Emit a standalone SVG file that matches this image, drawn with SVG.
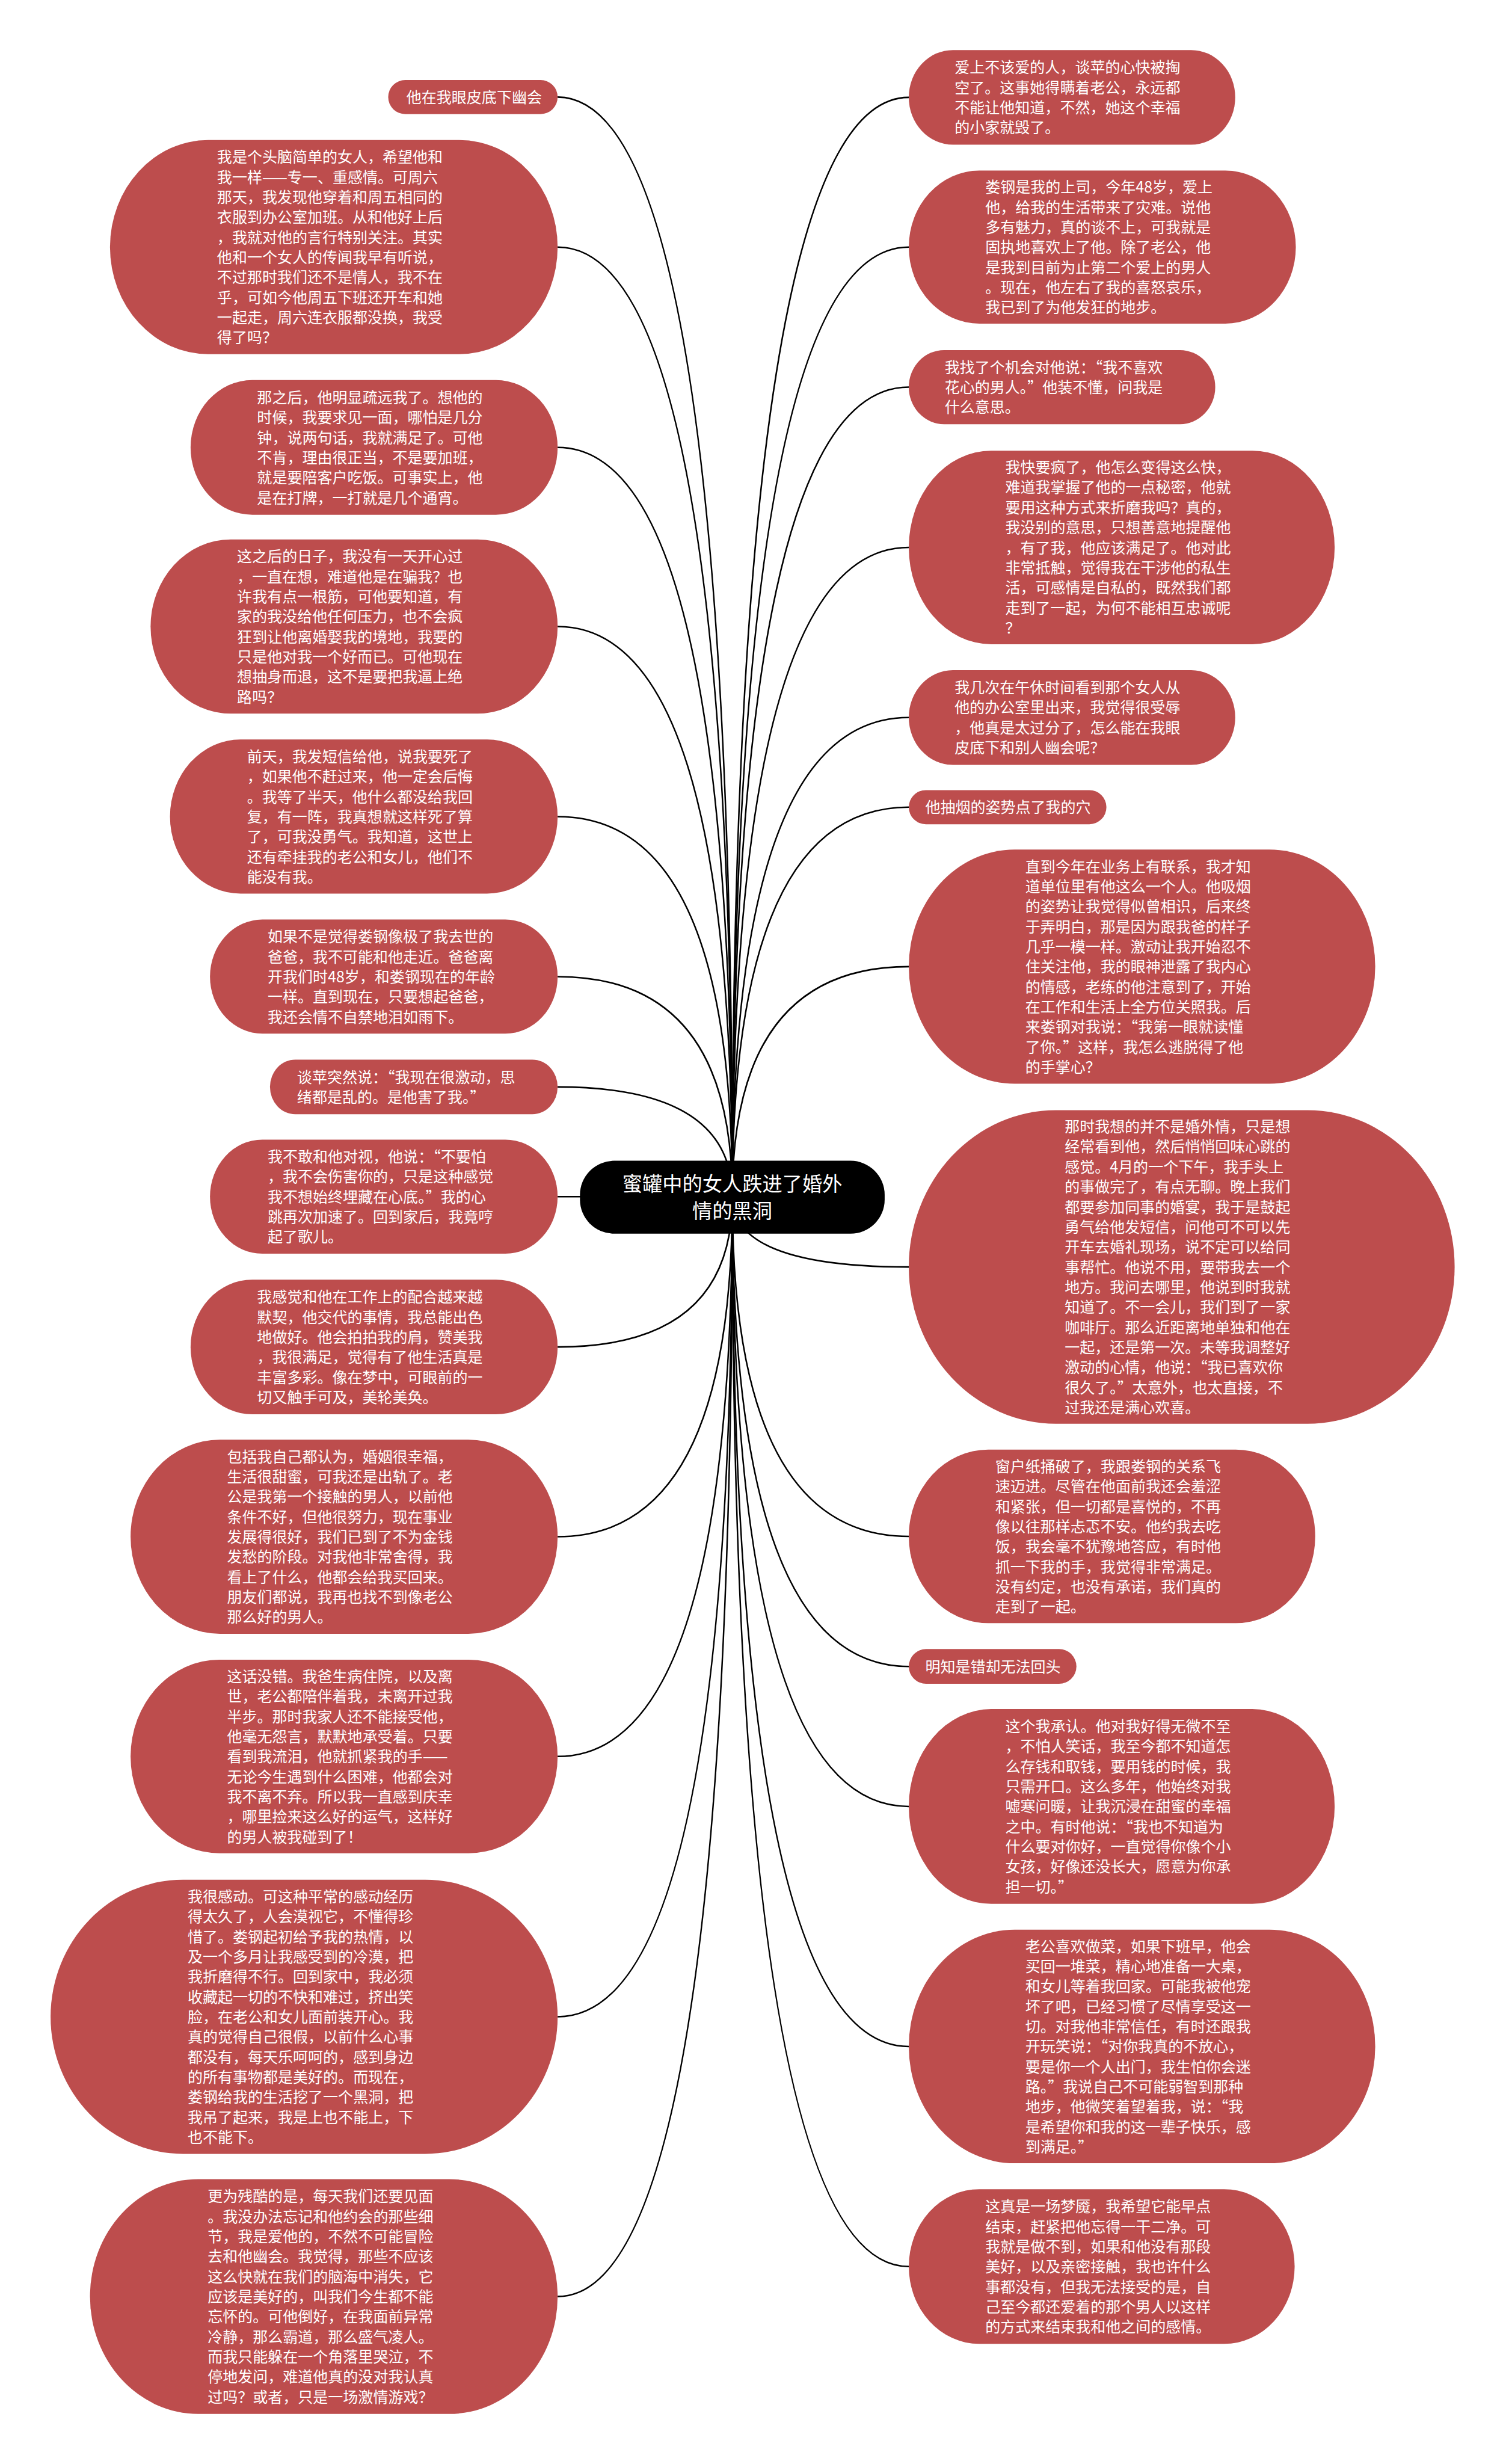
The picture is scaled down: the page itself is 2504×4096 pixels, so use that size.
<svg xmlns="http://www.w3.org/2000/svg" width="2504" height="4096" viewBox="0 0 2504 4096">
<style>
.node rect{fill:#bd4d4d;}
.node text{fill:#ffffff;font-family:"Noto Sans CJK SC","Noto Sans",sans-serif;font-size:25.6px;}
.root rect{fill:#000000;}
.root text{fill:#ffffff;font-family:"Noto Sans CJK SC","Noto Sans",sans-serif;font-size:34px;text-anchor:middle;}
.edges path{fill:none;stroke:#000000;stroke-width:2.6;}
.q{font-feature-settings:"fwid" 1;}
</style>
<rect width="2504" height="4096" fill="#ffffff"/>
<g transform="scale(0.978)">
<g class="edges">
<path d="M1245 2035 Q1245 165 948 165"/>
<path d="M1245 2035 Q1245 420 948 420"/>
<path d="M1245 2035 Q1245 760.5 948 760.5"/>
<path d="M1245 2035 Q1245 1065 948 1065"/>
<path d="M1245 2035 Q1245 1388 948 1388"/>
<path d="M1245 2035 Q1245 1660 948 1660"/>
<path d="M1245 2035 Q1245 1847.5 948 1847.5"/>
<path d="M1245 2035 Q1245 2034 948 2034"/>
<path d="M1245 2035 Q1245 2289.5 948 2289.5"/>
<path d="M1245 2035 Q1245 2612 948 2612"/>
<path d="M1245 2035 Q1245 2985.5 948 2985.5"/>
<path d="M1245 2035 Q1245 3428 948 3428"/>
<path d="M1245 2035 Q1245 3903.5 948 3903.5"/>
<path d="M1245 2035 Q1245 165.5 1545 165.5"/>
<path d="M1245 2035 Q1245 420 1545 420"/>
<path d="M1245 2035 Q1245 658 1545 658"/>
<path d="M1245 2035 Q1245 930.5 1545 930.5"/>
<path d="M1245 2035 Q1245 1219.5 1545 1219.5"/>
<path d="M1245 2035 Q1245 1372 1545 1372"/>
<path d="M1245 2035 Q1245 1643 1545 1643"/>
<path d="M1245 2035 Q1245 2153.5 1545 2153.5"/>
<path d="M1245 2035 Q1245 2611.5 1545 2611.5"/>
<path d="M1245 2035 Q1245 2832.5 1545 2832.5"/>
<path d="M1245 2035 Q1245 3070.5 1545 3070.5"/>
<path d="M1245 2035 Q1245 3478.5 1545 3478.5"/>
<path d="M1245 2035 Q1245 3852.5 1545 3852.5"/>
</g>

<g id="root" class="root">
<rect x="986" y="1973" width="518" height="124" rx="58" ry="58"/>
<text x="1245" y="2025"><tspan x="1245">蜜罐中的女人跌进了婚外</tspan><tspan x="1245" dy="46">情的黑洞</tspan></text>
</g>

<g id="L1" class="node">
<rect x="660" y="136" width="288" height="58" rx="29" ry="29"/>
<text x="691" y="174.7">他在我眼皮底下幽会</text>
</g>

<g id="L2" class="node">
<rect x="187" y="238" width="761" height="364" rx="167" ry="182"/>
<text x="369" y="276.3"><tspan x="369">我是个头脑简单的女人，希望他和</tspan><tspan x="369" dy="34.1">我一样——专一、重感情。可周六</tspan><tspan x="369" dy="34.1">那天，我发现他穿着和周五相同的</tspan><tspan x="369" dy="34.1">衣服到办公室加班。从和他好上后</tspan><tspan x="369" dy="34.1">，我就对他的言行特别关注。其实</tspan><tspan x="369" dy="34.1">他和一个女人的传闻我早有听说，</tspan><tspan x="369" dy="34.1">不过那时我们还不是情人，我不在</tspan><tspan x="369" dy="34.1">乎，可如今他周五下班还开车和她</tspan><tspan x="369" dy="34.1">一起走，周六连衣服都没换，我受</tspan><tspan x="369" dy="34.1">得了吗？</tspan></text>
</g>

<g id="L3" class="node">
<rect x="324" y="646" width="624" height="229" rx="105" ry="114.5"/>
<text x="437" y="685"><tspan x="437">那之后，他明显疏远我了。想他的</tspan><tspan x="437" dy="34.1">时候，我要求见一面，哪怕是几分</tspan><tspan x="437" dy="34.1">钟，说两句话，我就满足了。可他</tspan><tspan x="437" dy="34.1">不肯，理由很正当，不是要加班，</tspan><tspan x="437" dy="34.1">就是要陪客户吃饭。可事实上，他</tspan><tspan x="437" dy="34.1">是在打牌，一打就是几个通宵。</tspan></text>
</g>

<g id="L4" class="node">
<rect x="256" y="917" width="692" height="296" rx="136" ry="148"/>
<text x="403" y="955.4"><tspan x="403">这之后的日子，我没有一天开心过</tspan><tspan x="403" dy="34.1">，一直在想，难道他是在骗我？也</tspan><tspan x="403" dy="34.1">许我有点一根筋，可他要知道，有</tspan><tspan x="403" dy="34.1">家的我没给他任何压力，也不会疯</tspan><tspan x="403" dy="34.1">狂到让他离婚娶我的境地，我要的</tspan><tspan x="403" dy="34.1">只是他对我一个好而已。可他现在</tspan><tspan x="403" dy="34.1">想抽身而退，这不是要把我逼上绝</tspan><tspan x="403" dy="34.1">路吗？</tspan></text>
</g>

<g id="L5" class="node">
<rect x="289" y="1257" width="659" height="262" rx="120" ry="131"/>
<text x="420" y="1295.4"><tspan x="420">前天，我发短信给他，说我要死了</tspan><tspan x="420" dy="34.1">，如果他不赶过来，他一定会后悔</tspan><tspan x="420" dy="34.1">。我等了半天，他什么都没给我回</tspan><tspan x="420" dy="34.1">复，有一阵，我真想就这样死了算</tspan><tspan x="420" dy="34.1">了，可我没勇气。我知道，这世上</tspan><tspan x="420" dy="34.1">还有牵挂我的老公和女儿，他们不</tspan><tspan x="420" dy="34.1">能没有我。</tspan></text>
</g>

<g id="L6" class="node">
<rect x="357" y="1563" width="591" height="194" rx="89" ry="97"/>
<text x="455" y="1601.5"><tspan x="455">如果不是觉得娄钢像极了我去世的</tspan><tspan x="455" dy="34.1">爸爸，我不可能和他走近。爸爸离</tspan><tspan x="455" dy="34.1">开我们时48岁，和娄钢现在的年龄</tspan><tspan x="455" dy="34.1">一样。直到现在，只要想起爸爸，</tspan><tspan x="455" dy="34.1">我还会情不自禁地泪如雨下。</tspan></text>
</g>

<g id="L7" class="node">
<rect x="459" y="1801" width="489" height="93" rx="43" ry="46.5"/>
<text x="505" y="1840.2"><tspan x="505">谈苹突然说：<tspan class="q">“</tspan>我现在很激动，思</tspan><tspan x="505" dy="34.1">绪都是乱的。是他害了我。<tspan class="q">”</tspan></tspan></text>
</g>

<g id="L8" class="node">
<rect x="357" y="1937" width="591" height="194" rx="89" ry="97"/>
<text x="455" y="1975.5"><tspan x="455">我不敢和他对视，他说：<tspan class="q">“</tspan>不要怕</tspan><tspan x="455" dy="34.1">，我不会伤害你的，只是这种感觉</tspan><tspan x="455" dy="34.1">我不想始终埋藏在心底。<tspan class="q">”</tspan>我的心</tspan><tspan x="455" dy="34.1">跳再次加速了。回到家后，我竟哼</tspan><tspan x="455" dy="34.1">起了歌儿。</tspan></text>
</g>

<g id="L9" class="node">
<rect x="324" y="2175" width="624" height="229" rx="105" ry="114.5"/>
<text x="437" y="2214"><tspan x="437">我感觉和他在工作上的配合越来越</tspan><tspan x="437" dy="34.1">默契，他交代的事情，我总能出色</tspan><tspan x="437" dy="34.1">地做好。他会拍拍我的肩，赞美我</tspan><tspan x="437" dy="34.1">，我很满足，觉得有了他生活真是</tspan><tspan x="437" dy="34.1">丰富多彩。像在梦中，可眼前的一</tspan><tspan x="437" dy="34.1">切又触手可及，美轮美奂。</tspan></text>
</g>

<g id="L10" class="node">
<rect x="222" y="2447" width="726" height="330" rx="152" ry="165"/>
<text x="386" y="2485.3"><tspan x="386">包括我自己都认为，婚姻很幸福，</tspan><tspan x="386" dy="34.1">生活很甜蜜，可我还是出轨了。老</tspan><tspan x="386" dy="34.1">公是我第一个接触的男人，以前他</tspan><tspan x="386" dy="34.1">条件不好，但他很努力，现在事业</tspan><tspan x="386" dy="34.1">发展得很好，我们已到了不为金钱</tspan><tspan x="386" dy="34.1">发愁的阶段。对我他非常舍得，我</tspan><tspan x="386" dy="34.1">看上了什么，他都会给我买回来。</tspan><tspan x="386" dy="34.1">朋友们都说，我再也找不到像老公</tspan><tspan x="386" dy="34.1">那么好的男人。</tspan></text>
</g>

<g id="L11" class="node">
<rect x="222" y="2821" width="726" height="329" rx="151" ry="164.5"/>
<text x="386" y="2858.8"><tspan x="386">这话没错。我爸生病住院，以及离</tspan><tspan x="386" dy="34.1">世，老公都陪伴着我，未离开过我</tspan><tspan x="386" dy="34.1">半步。那时我家人还不能接受他，</tspan><tspan x="386" dy="34.1">他毫无怨言，默默地承受着。只要</tspan><tspan x="386" dy="34.1">看到我流泪，他就抓紧我的手——</tspan><tspan x="386" dy="34.1">无论今生遇到什么困难，他都会对</tspan><tspan x="386" dy="34.1">我不离不弃。所以我一直感到庆幸</tspan><tspan x="386" dy="34.1">，哪里捡来这么好的运气，这样好</tspan><tspan x="386" dy="34.1">的男人被我碰到了！</tspan></text>
</g>

<g id="L12" class="node">
<rect x="86" y="3195" width="862" height="466" rx="225" ry="233"/>
<text x="319" y="3233.1"><tspan x="319">我很感动。可这种平常的感动经历</tspan><tspan x="319" dy="34.1">得太久了，人会漠视它，不懂得珍</tspan><tspan x="319" dy="34.1">惜了。娄钢起初给予我的热情，以</tspan><tspan x="319" dy="34.1">及一个多月让我感受到的冷漠，把</tspan><tspan x="319" dy="34.1">我折磨得不行。回到家中，我必须</tspan><tspan x="319" dy="34.1">收藏起一切的不快和难过，挤出笑</tspan><tspan x="319" dy="34.1">脸，在老公和女儿面前装开心。我</tspan><tspan x="319" dy="34.1">真的觉得自己很假，以前什么心事</tspan><tspan x="319" dy="34.1">都没有，每天乐呵呵的，感到身边</tspan><tspan x="319" dy="34.1">的所有事物都是美好的。而现在，</tspan><tspan x="319" dy="34.1">娄钢给我的生活挖了一个黑洞，把</tspan><tspan x="319" dy="34.1">我吊了起来，我是上也不能上，下</tspan><tspan x="319" dy="34.1">也不能下。</tspan></text>
</g>

<g id="L13" class="node">
<rect x="153" y="3704" width="795" height="399" rx="184" ry="199.5"/>
<text x="353" y="3742.7"><tspan x="353">更为残酷的是，每天我们还要见面</tspan><tspan x="353" dy="34.1">。我没办法忘记和他约会的那些细</tspan><tspan x="353" dy="34.1">节，我是爱他的，不然不可能冒险</tspan><tspan x="353" dy="34.1">去和他幽会。我觉得，那些不应该</tspan><tspan x="353" dy="34.1">这么快就在我们的脑海中消失，它</tspan><tspan x="353" dy="34.1">应该是美好的，叫我们今生都不能</tspan><tspan x="353" dy="34.1">忘怀的。可他倒好，在我面前异常</tspan><tspan x="353" dy="34.1">冷静，那么霸道，那么盛气凌人。</tspan><tspan x="353" dy="34.1">而我只能躲在一个角落里哭泣，不</tspan><tspan x="353" dy="34.1">停地发问，难道他真的没对我认真</tspan><tspan x="353" dy="34.1">过吗？或者，只是一场激情游戏？</tspan></text>
</g>

<g id="R1" class="node">
<rect x="1545" y="85" width="555" height="161" rx="75" ry="80.5"/>
<text x="1623" y="124"><tspan x="1623">爱上不该爱的人，谈苹的心快被掏</tspan><tspan x="1623" dy="34.1">空了。这事她得瞒着老公，永远都</tspan><tspan x="1623" dy="34.1">不能让他知道，不然，她这个幸福</tspan><tspan x="1623" dy="34.1">的小家就毁了。</tspan></text>
</g>

<g id="R2" class="node">
<rect x="1545" y="290" width="658" height="260" rx="120" ry="130"/>
<text x="1675" y="327.4"><tspan x="1675">娄钢是我的上司，今年48岁，爱上</tspan><tspan x="1675" dy="34.1">他，给我的生活带来了灾难。说他</tspan><tspan x="1675" dy="34.1">多有魅力，真的谈不上，可我就是</tspan><tspan x="1675" dy="34.1">固执地喜欢上了他。除了老公，他</tspan><tspan x="1675" dy="34.1">是我到目前为止第二个爱上的男人</tspan><tspan x="1675" dy="34.1">。现在，他左右了我的喜怒哀乐，</tspan><tspan x="1675" dy="34.1">我已到了为他发狂的地步。</tspan></text>
</g>

<g id="R3" class="node">
<rect x="1545" y="595" width="521" height="126" rx="60" ry="63"/>
<text x="1606" y="633.6"><tspan x="1606">我找了个机会对他说：<tspan class="q">“</tspan>我不喜欢</tspan><tspan x="1606" dy="34.1">花心的男人。<tspan class="q">”</tspan>他装不懂，问我是</tspan><tspan x="1606" dy="34.1">什么意思。</tspan></text>
</g>

<g id="R4" class="node">
<rect x="1545" y="766" width="724" height="329" rx="140" ry="164.5"/>
<text x="1709" y="803.8"><tspan x="1709">我快要疯了，他怎么变得这么快，</tspan><tspan x="1709" dy="34.1">难道我掌握了他的一点秘密，他就</tspan><tspan x="1709" dy="34.1">要用这种方式来折磨我吗？真的，</tspan><tspan x="1709" dy="34.1">我没别的意思，只想善意地提醒他</tspan><tspan x="1709" dy="34.1">，有了我，他应该满足了。他对此</tspan><tspan x="1709" dy="34.1">非常抵触，觉得我在干涉他的私生</tspan><tspan x="1709" dy="34.1">活，可感情是自私的，既然我们都</tspan><tspan x="1709" dy="34.1">走到了一起，为何不能相互忠诚呢</tspan><tspan x="1709" dy="34.1">？</tspan></text>
</g>

<g id="R5" class="node">
<rect x="1545" y="1139" width="555" height="161" rx="75" ry="80.5"/>
<text x="1623" y="1178"><tspan x="1623">我几次在午休时间看到那个女人从</tspan><tspan x="1623" dy="34.1">他的办公室里出来，我觉得很受辱</tspan><tspan x="1623" dy="34.1">，他真是太过分了，怎么能在我眼</tspan><tspan x="1623" dy="34.1">皮底下和别人幽会呢？</tspan></text>
</g>

<g id="R6" class="node">
<rect x="1545" y="1343" width="336" height="58" rx="29" ry="29"/>
<text x="1573" y="1381.7">他抽烟的姿势点了我的穴</text>
</g>

<g id="R7" class="node">
<rect x="1545" y="1444" width="793" height="398" rx="180" ry="199"/>
<text x="1743" y="1482.2"><tspan x="1743">直到今年在业务上有联系，我才知</tspan><tspan x="1743" dy="34.1">道单位里有他这么一个人。他吸烟</tspan><tspan x="1743" dy="34.1">的姿势让我觉得似曾相识，后来终</tspan><tspan x="1743" dy="34.1">于弄明白，那是因为跟我爸的样子</tspan><tspan x="1743" dy="34.1">几乎一模一样。激动让我开始忍不</tspan><tspan x="1743" dy="34.1">住关注他，我的眼神泄露了我内心</tspan><tspan x="1743" dy="34.1">的情感，老练的他注意到了，开始</tspan><tspan x="1743" dy="34.1">在工作和生活上全方位关照我。后</tspan><tspan x="1743" dy="34.1">来娄钢对我说：<tspan class="q">“</tspan>我第一眼就读懂</tspan><tspan x="1743" dy="34.1">了你。<tspan class="q">”</tspan>这样，我怎么逃脱得了他</tspan><tspan x="1743" dy="34.1">的手掌心？</tspan></text>
</g>

<g id="R8" class="node">
<rect x="1545" y="1887" width="928" height="533" rx="250" ry="266.5"/>
<text x="1810" y="1924.5"><tspan x="1810">那时我想的并不是婚外情，只是想</tspan><tspan x="1810" dy="34.1">经常看到他，然后悄悄回味心跳的</tspan><tspan x="1810" dy="34.1">感觉。4月的一个下午，我手头上</tspan><tspan x="1810" dy="34.1">的事做完了，有点无聊。晚上我们</tspan><tspan x="1810" dy="34.1">都要参加同事的婚宴，我于是鼓起</tspan><tspan x="1810" dy="34.1">勇气给他发短信，问他可不可以先</tspan><tspan x="1810" dy="34.1">开车去婚礼现场，说不定可以给同</tspan><tspan x="1810" dy="34.1">事帮忙。他说不用，要带我去一个</tspan><tspan x="1810" dy="34.1">地方。我问去哪里，他说到时我就</tspan><tspan x="1810" dy="34.1">知道了。不一会儿，我们到了一家</tspan><tspan x="1810" dy="34.1">咖啡厅。那么近距离地单独和他在</tspan><tspan x="1810" dy="34.1">一起，还是第一次。未等我调整好</tspan><tspan x="1810" dy="34.1">激动的心情，他说：<tspan class="q">“</tspan>我已喜欢你</tspan><tspan x="1810" dy="34.1">很久了。<tspan class="q">”</tspan>太意外，也太直接，不</tspan><tspan x="1810" dy="34.1">过我还是满心欢喜。</tspan></text>
</g>

<g id="R9" class="node">
<rect x="1545" y="2464" width="691" height="295" rx="135" ry="147.5"/>
<text x="1692" y="2501.9"><tspan x="1692">窗户纸捅破了，我跟娄钢的关系飞</tspan><tspan x="1692" dy="34.1">速迈进。尽管在他面前我还会羞涩</tspan><tspan x="1692" dy="34.1">和紧张，但一切都是喜悦的，不再</tspan><tspan x="1692" dy="34.1">像以往那样忐忑不安。他约我去吃</tspan><tspan x="1692" dy="34.1">饭，我会毫不犹豫地答应，有时他</tspan><tspan x="1692" dy="34.1">抓一下我的手，我觉得非常满足。</tspan><tspan x="1692" dy="34.1">没有约定，也没有承诺，我们真的</tspan><tspan x="1692" dy="34.1">走到了一起。</tspan></text>
</g>

<g id="R10" class="node">
<rect x="1545" y="2803" width="285" height="59" rx="29.5" ry="29.5"/>
<text x="1573" y="2842.2">明知是错却无法回头</text>
</g>

<g id="R11" class="node">
<rect x="1545" y="2905" width="724" height="331" rx="140" ry="165.5"/>
<text x="1709" y="2943.8"><tspan x="1709">这个我承认。他对我好得无微不至</tspan><tspan x="1709" dy="34.1">，不怕人笑话，我至今都不知道怎</tspan><tspan x="1709" dy="34.1">么存钱和取钱，要用钱的时候，我</tspan><tspan x="1709" dy="34.1">只需开口。这么多年，他始终对我</tspan><tspan x="1709" dy="34.1">嘘寒问暖，让我沉浸在甜蜜的幸福</tspan><tspan x="1709" dy="34.1">之中。有时他说：<tspan class="q">“</tspan>我也不知道为</tspan><tspan x="1709" dy="34.1">什么要对你好，一直觉得你像个小</tspan><tspan x="1709" dy="34.1">女孩，好像还没长大，愿意为你承</tspan><tspan x="1709" dy="34.1">担一切。<tspan class="q">”</tspan></tspan></text>
</g>

<g id="R12" class="node">
<rect x="1545" y="3280" width="793" height="397" rx="180" ry="198.5"/>
<text x="1743" y="3317.7"><tspan x="1743">老公喜欢做菜，如果下班早，他会</tspan><tspan x="1743" dy="34.1">买回一堆菜，精心地准备一大桌，</tspan><tspan x="1743" dy="34.1">和女儿等着我回家。可能我被他宠</tspan><tspan x="1743" dy="34.1">坏了吧，已经习惯了尽情享受这一</tspan><tspan x="1743" dy="34.1">切。对我他非常信任，有时还跟我</tspan><tspan x="1743" dy="34.1">开玩笑说：<tspan class="q">“</tspan>对你我真的不放心，</tspan><tspan x="1743" dy="34.1">要是你一个人出门，我生怕你会迷</tspan><tspan x="1743" dy="34.1">路。<tspan class="q">”</tspan>我说自己不可能弱智到那种</tspan><tspan x="1743" dy="34.1">地步，他微笑着望着我，说：<tspan class="q">“</tspan>我</tspan><tspan x="1743" dy="34.1">是希望你和我的这一辈子快乐，感</tspan><tspan x="1743" dy="34.1">到满足。<tspan class="q">”</tspan></tspan></text>
</g>

<g id="R13" class="node">
<rect x="1545" y="3721" width="656" height="263" rx="120" ry="131.5"/>
<text x="1675" y="3759.9"><tspan x="1675">这真是一场梦魇，我希望它能早点</tspan><tspan x="1675" dy="34.1">结束，赶紧把他忘得一干二净。可</tspan><tspan x="1675" dy="34.1">我就是做不到，如果和他没有那段</tspan><tspan x="1675" dy="34.1">美好，以及亲密接触，我也许什么</tspan><tspan x="1675" dy="34.1">事都没有，但我无法接受的是，自</tspan><tspan x="1675" dy="34.1">己至今都还爱着的那个男人以这样</tspan><tspan x="1675" dy="34.1">的方式来结束我和他之间的感情。</tspan></text>
</g>
</g>
</svg>
